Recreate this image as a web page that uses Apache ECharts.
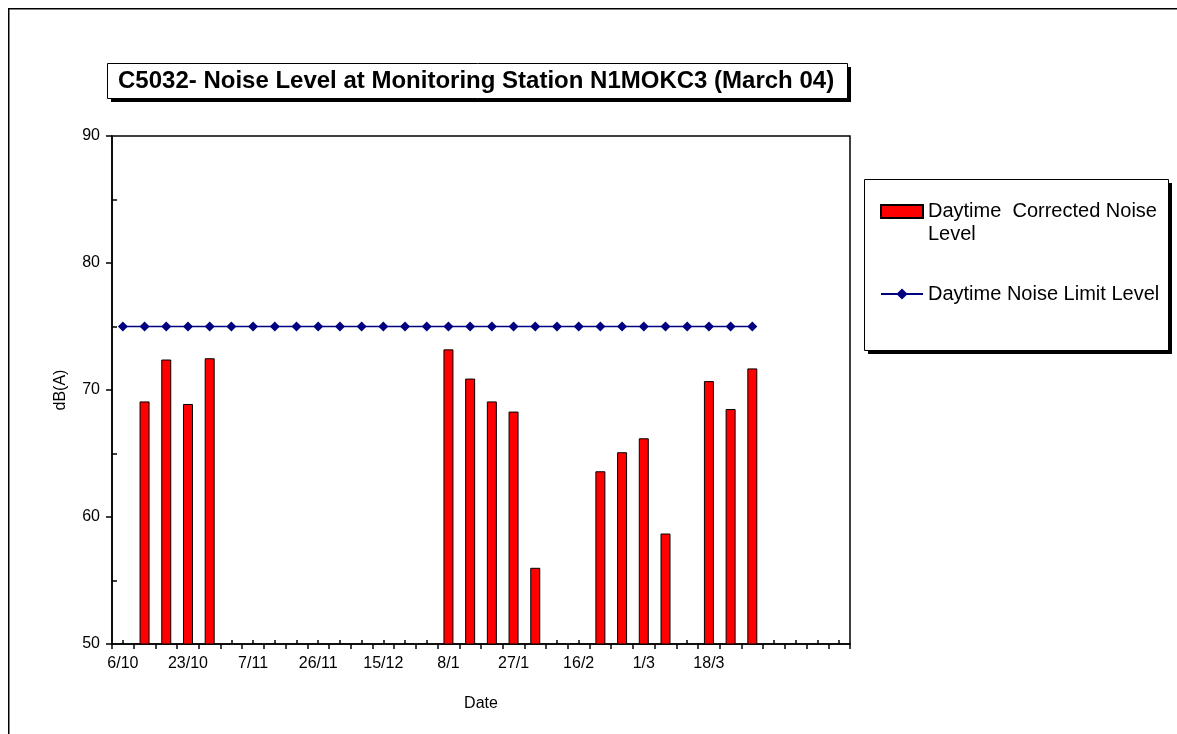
<!DOCTYPE html>
<html>
<head>
<meta charset="utf-8">
<script src="https://cdn.jsdelivr.net/npm/echarts@6/dist/echarts.min.js"></script>
<style>
    html, body { margin: 0; padding: 0; background: #fff; }
    #chart { width: 1177px; height: 734px; }
</style>
</head>
<body>
<div id="chart"></div>
<script>
    // category labels (only every third date is printed on the axis)
    var dates = ['6/10', '', '', '23/10', '', '', '7/11', '', '', '26/11', '', '',
        '15/12', '', '', '8/1', '', '', '27/1', '', '', '16/2', '', '',
        '1/3', '', '', '18/3', '', '', '', '', '', ''];
    // daytime corrected noise level, dB(A)
    var noiseLevel = [null, 69.1, 72.4, 68.9, 72.5, null, null, null, null, null,
        null, null, null, null, null, 73.2, 70.9, 69.1, 68.3, 56.0,
        null, null, 63.6, 65.1, 66.2, 58.7, null, 70.7, 68.5, 71.7,
        null, null, null, null];
    // daytime noise limit level, dB(A)
    var limitLevel = [75, 75, 75, 75, 75, 75, 75, 75, 75, 75,
        75, 75, 75, 75, 75, 75, 75, 75, 75, 75,
        75, 75, 75, 75, 75, 75, 75, 75, 75, 75];
    var yTicks = { min: 50, max: 90, interval: 10 };

    var font = 'Liberation Sans, Arial, sans-serif';
    var chart = echarts.init(document.getElementById('chart'));
    chart.setOption({
        animation: false,
        textStyle: { fontFamily: font, color: '#000' },
        title: {
            text: 'C5032- Noise Level at Monitoring Station N1MOKC3 (March 04)',
            left: 118, top: 69,
            padding: 0,
            textStyle: { fontFamily: font, fontSize: 24, fontWeight: 'bold', color: '#000' }
        },
        graphic: [
            // outer chart frame
            { type: 'rect', left: 8, top: 8, z: -10, silent: true,
              shape: { width: 1190, height: 760 },
              style: { fill: '#fff', stroke: '#000', lineWidth: 1.5 } },
            // title box shadow + box
            { type: 'rect', left: 111, top: 67, z: -5, silent: true,
              shape: { width: 740, height: 35 },
              style: { fill: '#000' } },
            { type: 'rect', left: 107, top: 63, z: -4, silent: true,
              shape: { width: 740, height: 35 },
              style: { fill: '#fff', stroke: '#000', lineWidth: 1 } },
            // legend box shadow + box
            { type: 'rect', left: 868, top: 183, z: -5, silent: true,
              shape: { width: 304, height: 171 },
              style: { fill: '#000' } },
            { type: 'rect', left: 864, top: 179, z: -4, silent: true,
              shape: { width: 304, height: 171 },
              style: { fill: '#fff', stroke: '#000', lineWidth: 1 } }
        ],
        legend: [{
            data: [{ name: 'Daytime  Corrected Noise Level', icon: 'rect' }],
            left: 880, top: 177, padding: 0,
            itemWidth: 42, itemHeight: 13,
            // leading blank line keeps the icon level with the first text line
            formatter: function () { return '\nDaytime  Corrected Noise\nLevel'; },
            textStyle: { fontFamily: font, fontSize: 20, color: '#000', lineHeight: 23 }
        }, {
            data: ['Daytime Noise Limit Level'],
            left: 880, top: 284, padding: 0,
            itemWidth: 42, itemHeight: 14,
            textStyle: { fontFamily: font, fontSize: 20, color: '#000' }
        }],
        grid: {
            left: 112, top: 136, right: 327, bottom: 90,
            show: true, borderColor: '#000', borderWidth: 1.5,
            containLabel: false
        },
        xAxis: [{
            type: 'category',
            data: dates,
            name: 'Date',
            nameLocation: 'middle',
            nameGap: 52,
            nameTextStyle: { fontFamily: font, fontSize: 16, color: '#000' },
            axisLine: { lineStyle: { color: '#000', width: 1.5 } },
            axisTick: { show: true, interval: 0, length: 5, lineStyle: { color: '#000', width: 1.5 } },
            axisLabel: { interval: 0, margin: 12, fontFamily: font, fontSize: 16, color: '#000' },
            splitLine: { show: false }
        }, {
            type: 'category',
            data: dates,
            position: 'bottom',
            axisLine: { show: false },
            axisTick: { show: true, interval: 0, alignWithLabel: true, inside: true, length: 4,
                        lineStyle: { color: '#000', width: 1.5 } },
            axisLabel: { show: false },
            splitLine: { show: false }
        }],
        yAxis: {
            type: 'value',
            min: yTicks.min, max: yTicks.max, interval: yTicks.interval,
            name: 'dB(A)',
            nameLocation: 'middle',
            nameGap: 43,
            nameTextStyle: { fontFamily: font, fontSize: 16, color: '#000' },
            axisLine: { show: true, lineStyle: { color: '#000', width: 1.5 } },
            axisTick: { show: true, length: 6, lineStyle: { color: '#000', width: 1.5 } },
            minorTick: { show: true, splitNumber: 2, length: -5, lineStyle: { color: '#000', width: 1.5 } },
            axisLabel: { margin: 12, fontFamily: font, fontSize: 16, color: '#000' },
            splitLine: { show: false }
        },
        series: [{
            name: 'Daytime  Corrected Noise Level',
            type: 'bar',
            data: noiseLevel,
            barWidth: 10,
            itemStyle: { color: '#ff0000', borderColor: '#000', borderWidth: 1 }
        }, {
            name: 'Daytime Noise Limit Level',
            type: 'line',
            data: limitLevel,
            symbol: 'diamond',
            symbolSize: 10,
            lineStyle: { color: '#000080', width: 1.5 },
            itemStyle: { color: '#000080' }
        }]
    });
</script>
</body>
</html>
